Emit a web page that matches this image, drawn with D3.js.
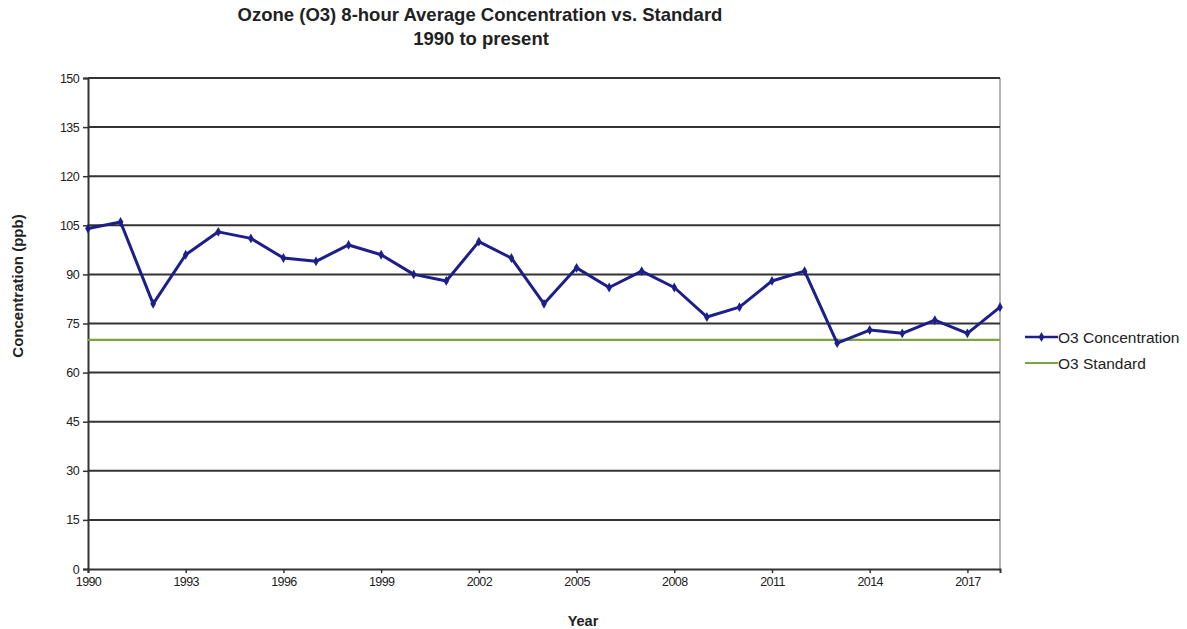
<!DOCTYPE html>
<html>
<head>
<meta charset="utf-8">
<script src="https://cdn.jsdelivr.net/npm/d3@7"></script>
<style>
  body { margin: 0; background: #fff; }
  text { font-family: "Liberation Sans", Arial, sans-serif; }
</style>
</head>
<body>
<svg id="chart" width="1187" height="629"></svg>
<script>
// Annual ozone 8-hour average concentration (ppb) with the standard
const years = d3.range(1990, 2019);
const concentration = [104, 106, 81, 96, 103, 101, 95, 94, 99, 96, 90, 88, 100, 95, 81,
                       92, 86, 91, 86, 77, 80, 88, 91, 69, 73, 72, 76, 72, 80];
const standard = years.map(() => 70);
const yTicks = [0, 15, 30, 45, 60, 75, 90, 105, 120, 135, 150];
const xTicks = [1990, 1993, 1996, 1999, 2002, 2005, 2008, 2011, 2014, 2017];

const svg = d3.select("#chart");
const m = { left: 88, right: 1000, top: 78, bottom: 569 };

const x = d3.scaleLinear().domain([1990, 2018]).range([m.left, m.right]);
const y = d3.scaleLinear().domain([0, 150]).range([m.bottom, m.top]);

// Titles
svg.append("text").attr("x", 480).attr("y", 21).attr("text-anchor", "middle")
  .attr("font-size", 18.5).attr("font-weight", "bold").attr("fill", "#222")
  .text("Ozone (O3) 8-hour Average Concentration vs. Standard");
svg.append("text").attr("x", 481).attr("y", 45).attr("text-anchor", "middle")
  .attr("font-size", 18.5).attr("font-weight", "bold").attr("fill", "#222")
  .text("1990 to present");

// Right border of plot area
svg.append("line").attr("x1", m.right).attr("x2", m.right)
  .attr("y1", m.top).attr("y2", m.bottom)
  .attr("stroke", "#999").attr("stroke-width", 1.5);

// Horizontal gridlines
svg.append("g").selectAll("line").data(yTicks.filter(d => d > 0)).join("line")
  .attr("x1", m.left).attr("x2", m.right)
  .attr("y1", d => y(d)).attr("y2", d => y(d))
  .attr("stroke", "#333").attr("stroke-width", 2);

// Y axis
const yAxis = svg.append("g").attr("transform", `translate(${m.left},0)`)
  .call(d3.axisLeft(y).tickValues(yTicks).tickSize(5).tickPadding(4));
yAxis.select(".domain").attr("stroke", "#333").attr("stroke-width", 2);
yAxis.selectAll(".tick line").attr("stroke", "#333").attr("stroke-width", 1.5);
yAxis.selectAll(".tick text").attr("font-size", 12.5).attr("fill", "#222")
  .attr("letter-spacing", "-0.6px")
  .attr("font-family", "'Liberation Sans', Arial, sans-serif");

// X axis
const xAxis = svg.append("g").attr("transform", `translate(0,${m.bottom})`)
  .call(d3.axisBottom(x).tickValues(xTicks).tickFormat(d3.format("d")).tickSize(4).tickPadding(4));
xAxis.select(".domain").attr("stroke", "#333").attr("stroke-width", 2);
xAxis.selectAll(".tick line").attr("stroke", "#333").attr("stroke-width", 1.5);
xAxis.selectAll(".tick text").attr("font-size", 12.5).attr("fill", "#222")
  .attr("letter-spacing", "-0.6px")
  .attr("font-family", "'Liberation Sans', Arial, sans-serif");

// Axis titles
svg.append("text").attr("transform", "translate(23,286) rotate(-90)")
  .attr("text-anchor", "middle").attr("font-size", 15).attr("font-weight", "bold")
  .attr("fill", "#222").text("Concentration (ppb)");
svg.append("text").attr("x", 583).attr("y", 626).attr("text-anchor", "middle")
  .attr("font-size", 14.5).attr("font-weight", "bold").attr("fill", "#222").text("Year");

// Standard line
const navy = "#1c1f8a";
const green = "#7da33c";
const line = d3.line().x((d, i) => x(years[i])).y(d => y(d));

svg.append("path").datum(standard).attr("d", line)
  .attr("fill", "none").attr("stroke", green).attr("stroke-width", 2.2);

// Concentration series
svg.append("path").datum(concentration).attr("d", line)
  .attr("fill", "none").attr("stroke", navy).attr("stroke-width", 3)
  .attr("stroke-linejoin", "round");

const diamond = d3.symbol().type(d3.symbolDiamond).size(28);
svg.append("g").selectAll("path").data(concentration).join("path")
  .attr("transform", (d, i) => `translate(${x(years[i])},${y(d)})`)
  .attr("d", diamond).attr("fill", navy);

// Legend
const legend = svg.append("g");
legend.append("line").attr("x1", 1025).attr("x2", 1058).attr("y1", 337).attr("y2", 337)
  .attr("stroke", navy).attr("stroke-width", 2.5);
legend.append("path").attr("transform", "translate(1041.5,337)").attr("d", diamond).attr("fill", navy);
legend.append("text").attr("x", 1058).attr("y", 342.5).attr("font-size", 15.5)
  .attr("fill", "#222").text("O3 Concentration");
legend.append("line").attr("x1", 1025).attr("x2", 1058).attr("y1", 363).attr("y2", 363)
  .attr("stroke", green).attr("stroke-width", 2.2);
legend.append("text").attr("x", 1058).attr("y", 368.5).attr("font-size", 15.5)
  .attr("fill", "#222").text("O3 Standard");
</script>
</body>
</html>
